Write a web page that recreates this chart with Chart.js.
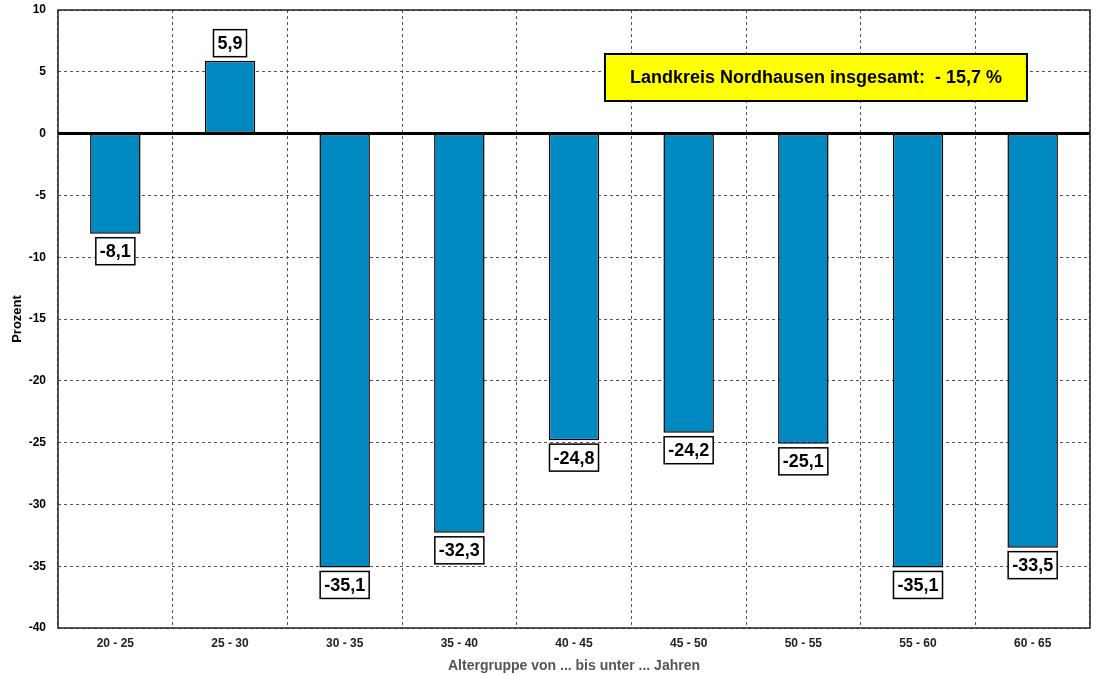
<!DOCTYPE html>
<html>
<head>
<meta charset="utf-8">
<script src="https://cdn.jsdelivr.net/npm/chart.js@4"></script>
<style>
  html, body { margin: 0; padding: 0; background: #fff; }
  #wrap { width: 1105px; height: 675px; }
</style>
</head>
<body>
<div id="wrap"><canvas id="chart" width="1105" height="675"></canvas></div>
<script>
// Altersgruppen und Veränderung in Prozent
const categories = ["20 - 25", "25 - 30", "30 - 35", "35 - 40", "40 - 45", "45 - 50", "50 - 55", "55 - 60", "60 - 65"];
const values = [-8.1, 5.9, -35.1, -32.3, -24.8, -24.2, -25.1, -35.1, -33.5];
const yTicks = [10, 5, 0, -5, -10, -15, -20, -25, -30, -35, -40];
const totalText = "Landkreis Nordhausen insgesamt:  - 15,7 %";

const fmt = v => v.toFixed(1).replace('.', ',');

// Rahmen, Nulllinie, Wertelabels, gelbe Box
const extras = {
  id: 'extras',
  afterDatasetsDraw(chart) {
    const ctx = chart.ctx;
    const a = chart.chartArea;
    const y = chart.scales.y;
    ctx.save();
    // Nulllinie
    ctx.strokeStyle = '#000';
    ctx.lineWidth = 3;
    ctx.beginPath();
    ctx.moveTo(a.left, y.getPixelForValue(0));
    ctx.lineTo(a.right, y.getPixelForValue(0));
    ctx.stroke();
    // Rahmen
    ctx.lineWidth = 1.5;
    ctx.strokeStyle = '#222';
    ctx.strokeRect(a.left, a.top, a.right - a.left, a.bottom - a.top);

    // Labels
    ctx.font = 'bold 18px "Liberation Sans", Arial, sans-serif';
    ctx.textAlign = 'center';
    ctx.textBaseline = 'middle';
    chart.getDatasetMeta(0).data.forEach((bar, i) => {
      const txt = fmt(values[i]);
      const w = ctx.measureText(txt).width + 8;
      const h = 27;
      const bx = bar.x - w / 2;
      const by = values[i] < 0 ? bar.y + 4 : bar.y - 4 - h;
      ctx.fillStyle = '#fff';
      ctx.fillRect(bx, by, w, h);
      ctx.lineWidth = 1.5;
      ctx.strokeStyle = '#000';
      ctx.strokeRect(bx, by, w, h);
      ctx.fillStyle = '#000';
      ctx.fillText(txt, bar.x, by + h / 2 + 1);
    });

    // Gesamtbox
    const bw = 422, bh = 47;
    const bx = a.left + (a.right - a.left) * 0.53;
    const by = a.top + 44;
    ctx.fillStyle = '#ffff00';
    ctx.fillRect(bx, by, bw, bh);
    ctx.lineWidth = 2;
    ctx.strokeStyle = '#000';
    ctx.strokeRect(bx, by, bw, bh);
    ctx.fillStyle = '#000';
    ctx.font = 'bold 18px "Liberation Sans", Arial, sans-serif';
    ctx.fillText(totalText, bx + bw / 2, by + bh / 2 + 1);
    ctx.restore();
  }
};

new Chart(document.getElementById('chart'), {
  type: 'bar',
  data: {
    labels: categories,
    datasets: [{
      data: values,
      backgroundColor: '#0088c0',
      borderColor: '#000',
      borderWidth: 1.5,
      borderSkipped: false,
      barPercentage: 0.44,
      categoryPercentage: 1
    }]
  },
  options: {
    responsive: false,
    animation: false,
    devicePixelRatio: 1,
    layout: { padding: { top: 10, right: 15, left: 0, bottom: 0 } },
    plugins: { legend: { display: false }, tooltip: { enabled: false } },
    scales: {
      x: {
        grid: { color: '#555', lineWidth: 1, offset: true, drawTicks: false },
        border: { display: false, dash: [3, 3] },
        ticks: {
          color: '#222',
          font: { family: '"Liberation Sans", Arial, sans-serif', size: 12, weight: 'bold' },
          padding: 8
        },
        title: {
          display: true,
          text: 'Altergruppe von ... bis unter ... Jahren',
          color: '#555',
          font: { family: '"Liberation Sans", Arial, sans-serif', size: 14, weight: 'bold' },
          padding: { top: 2, bottom: 0 }
        },
        afterFit: s => { s.height = 47; }
      },
      y: {
        min: -40,
        max: 10,
        afterBuildTicks: s => { s.ticks = yTicks.map(v => ({ value: v })); },
        grid: { color: '#555', lineWidth: 1, drawTicks: false },
        border: { display: false, dash: [3, 3] },
        ticks: {
          color: '#000',
          font: { family: '"Liberation Sans", Arial, sans-serif', size: 12, weight: 'bold' },
          padding: 12
        },
        title: {
          display: true,
          text: 'Prozent',
          color: '#000',
          font: { family: '"Liberation Sans", Arial, sans-serif', size: 13, weight: 'bold' },
          padding: { top: 10, bottom: 0 }
        },
        afterFit: s => { s.width = 58; s.paddingTop = 0; s.paddingBottom = 0; }
      }
    }
  },
  plugins: [extras]
});
</script>
</body>
</html>
